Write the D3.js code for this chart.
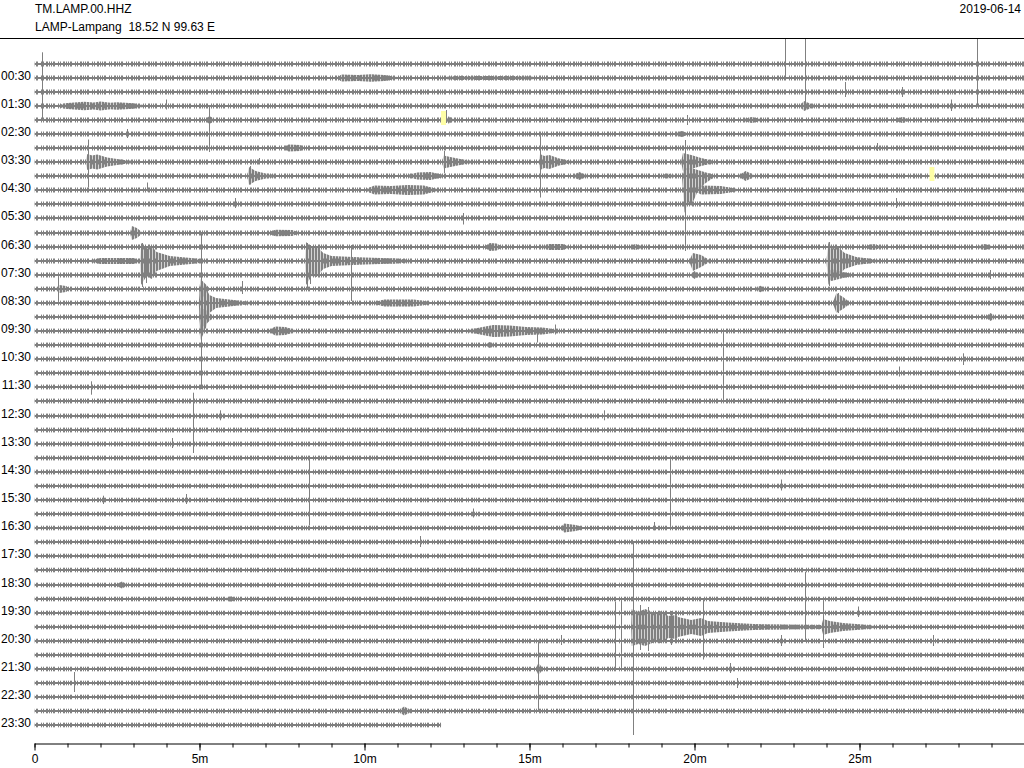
<!DOCTYPE html>
<html>
<head>
<meta charset="utf-8">
<script src="https://cdn.jsdelivr.net/npm/d3@7"></script>
<style>
  body { margin: 0; background: #fff; }
  svg { display: block; font-family: "Liberation Sans", Arial, sans-serif; }
  text { font-size: 12px; fill: #000; }
</style>
</head>
<body>
<svg id="heli" width="1024" height="768"></svg>
<script>
// header
const station = "TM.LAMP.00.HHZ";
const stationInfo = "LAMP-Lampang  18.52 N 99.63 E";
const dayLabel = "2019-06-14";

// 48 traces of 30 minutes, last one is cut short
const traceCount = 48;
const traceMinutes = 30;
const lastTraceEnd = 12.32;

const hourLabels = ["00:30", "01:30", "02:30", "03:30", "04:30", "05:30", "06:30", "07:30",
  "08:30", "09:30", "10:30", "11:30", "12:30", "13:30", "14:30", "15:30",
  "16:30", "17:30", "18:30", "19:30", "20:30", "21:30", "22:30", "23:30"];
const minuteTicks = [0, 5, 10, 15, 20, 25];
const minuteLabels = ["0", "5m", "10m", "15m", "20m", "25m"];

// background noise of each trace, half amplitude in counts
const noise = [250, 250, 250, 250, 250, 250, 250, 250, 250, 250, 250, 250, 250, 250, 250, 250,
  240, 240, 240, 240, 240, 240, 240, 240, 240, 240, 240, 240, 240, 240,
  230, 230, 230, 230, 230, 230, 230, 230, 230, 230, 230, 230, 230, 230, 230, 230, 230, 230];

// envelopes: [trace, [[minute, up, down], ...]]  (down = up if missing)
const events = [
  [1, [[9.2, 100], [9.3, 350], [9.8, 300], [10.2, 380], [10.6, 300], [11.0, 100]]],
  [1, [[12.4, 100], [12.8, 200], [14.8, 200], [15.2, 100]]],
  [3, [[0.7, 100], [1.0, 300], [1.5, 420], [1.8, 350], [2.0, 450], [2.3, 330], [2.5, 380], [3.0, 280], [3.3, 100]]],
  [3, [[23.2, 100], [23.32, 500], [23.5, 250], [23.65, 100]]],
  [4, [[5.2, 100], [5.3, 400], [5.45, 100]]],
  [4, [[12.5, 100], [12.55, 380], [12.7, 100]]],
  [4, [[21.5, 100], [21.75, 300], [22.0, 100]]],
  [4, [[26.1, 100], [26.3, 300], [26.5, 100]]],
  [5, [[19.4, 100], [19.6, 300], [19.8, 100]]],
  [6, [[7.55, 100], [7.7, 350], [8.05, 300], [8.15, 100]]],
  [7, [[1.55, 100], [1.6, 800], [1.75, 650], [1.9, 750], [2.2, 450], [2.6, 250], [3.0, 100]]],
  [7, [[12.35, 100], [12.4, 650], [12.6, 500], [12.9, 300], [13.3, 100]]],
  [7, [[15.28, 100], [15.32, 800], [15.45, 600], [15.6, 700], [15.9, 350], [16.3, 100]]],
  [7, [[19.6, 100], [19.65, 900], [19.9, 700], [20.2, 400], [20.6, 100]]],
  [8, [[6.45, 100], [6.5, 900], [6.7, 500], [7.0, 250], [7.3, 100]]],
  [8, [[11.3, 100], [11.6, 350], [12.0, 400], [12.4, 100]]],
  [8, [[16.35, 100], [16.5, 400], [16.75, 100]]],
  [8, [[19.0, 100], [19.2, 250], [19.4, 100]]],
  [8, [[19.62, 100], [19.7, 900, 3700], [19.8, 700, 2600], [19.9, 800, 3000], [20.1, 600, 1500], [20.3, 400, 800], [20.6, 100]]],
  [8, [[21.35, 100], [21.55, 500], [21.8, 100]]],
  [9, [[10.05, 100], [10.3, 450], [10.8, 400], [11.3, 500], [11.8, 450], [12.2, 100]]],
  [9, [[20.0, 100], [20.2, 450], [20.8, 400], [21.3, 100]]],
  [12, [[2.9, 100], [2.95, 700], [3.1, 500], [3.25, 100]]],
  [12, [[7.1, 100], [7.3, 330], [7.8, 300], [8.0, 100]]],
  [13, [[13.65, 100], [13.8, 400], [14.0, 350], [14.15, 100]]],
  [13, [[15.4, 100], [15.6, 300], [16.0, 300], [16.2, 100]]],
  [13, [[18.05, 100], [18.2, 300], [18.4, 100]]],
  [13, [[25.2, 100], [25.4, 300], [25.7, 100]]],
  [13, [[28.6, 100], [28.8, 300], [29.0, 100]]],
  [14, [[1.7, 100], [2.0, 300], [3.0, 300], [3.2, 100]]],
  [14, [[3.2, 100], [3.23, 1800, 2400], [3.4, 1200, 1500], [3.55, 1500, 1800], [3.7, 900, 1000], [4.1, 500], [4.9, 250], [5.2, 100]]],
  [14, [[8.2, 100], [8.23, 1900, 2400], [8.4, 1300, 1500], [8.55, 1500, 1600], [8.75, 800], [9.0, 500], [10.0, 350], [11.0, 250], [11.4, 100]]],
  [14, [[19.85, 100], [19.95, 800, 1000], [20.2, 600], [20.45, 100]]],
  [14, [[24.0, 100], [24.06, 1900, 2400], [24.2, 1200, 1400], [24.35, 1400, 1500], [24.55, 800], [24.9, 400], [25.4, 200], [25.6, 100]]],
  [15, [[19.9, 100], [20.0, 400], [20.15, 100]]],
  [15, [[24.0, 100], [24.15, 600], [24.5, 300], [24.8, 100]]],
  [16, [[0.65, 100], [0.75, 400], [0.95, 300], [1.05, 100]]],
  [16, [[5.0, 100], [5.03, 1000, 1300], [5.15, 600], [5.3, 100]]],
  [16, [[21.85, 100], [22.0, 330], [22.15, 100]]],
  [17, [[4.98, 100], [5.02, 1800, 3000], [5.2, 1500, 2500], [5.3, 800, 1000], [5.5, 500], [5.9, 350], [6.3, 200], [6.6, 100]]],
  [17, [[10.3, 100], [10.6, 350], [11.5, 350], [12.0, 100]]],
  [17, [[24.2, 100], [24.3, 1000], [24.5, 600], [24.7, 100]]],
  [18, [[5.0, 100], [5.03, 900, 1200], [5.2, 700], [5.4, 100]]],
  [18, [[28.85, 100], [28.97, 400], [29.1, 100]]],
  [19, [[5.0, 100], [5.03, 700, 900], [5.15, 100]]],
  [19, [[7.1, 100], [7.3, 450], [7.6, 400], [7.9, 100]]],
  [19, [[13.1, 100], [13.5, 350], [13.9, 600], [14.4, 550], [14.9, 400], [15.4, 350], [15.9, 100]]],
  [20, [[13.7, 100], [13.8, 300], [13.9, 100]]],
  [33, [[15.95, 100], [16.05, 450], [16.4, 300], [16.6, 100]]],
  [37, [[2.5, 100], [2.65, 350], [2.8, 100]]],
  [38, [[5.8, 100], [5.95, 300], [6.05, 100]]],
  [40, [[18.08, 100], [18.1, 1800, 1900], [18.3, 1500, 1700], [18.5, 1800, 1900], [18.8, 1400, 1500], [19.0, 1600],
        [19.2, 1100], [19.45, 1200], [19.5, 1000], [19.9, 700], [20.2, 900], [20.4, 600], [21.0, 450], [21.8, 300],
        [22.6, 250], [23.85, 200], [23.9, 800], [24.1, 600], [24.5, 400], [25.0, 280], [25.5, 100]]],
  [43, [[15.2, 100], [15.27, 600], [15.4, 100]]],
  [46, [[11.05, 100], [11.2, 450], [11.4, 100]]]
];

// single spikes: [trace, minute, up, down] in counts
const spikes = [
  [0, 0.22, 1170, 5650], [1, 22.74, 5000, 100], [2, 24.55, 1000, 500], [2, 26.28, 500, 500],
  [3, 3.99, 650, 350], [3, 23.34, 7000, 100], [3, 27.77, 650, 500], [3, 28.55, 7000, 100],
  [4, 5.29, 1300, 3200], [4, 12.47, 1000, 300], [4, 19.77, 500, 500], [5, 2.81, 500, 400],
  [6, 25.52, 500, 300], [7, 1.62, 2250, 2550], [7, 6.79, 400, 250], [7, 12.42, 1100, 1100],
  [7, 15.32, 2750, 3550], [7, 19.72, 2200, 8900], [8, 6.52, 1000, 850], [9, 3.40, 750, 150],
  [10, 6.08, 600, 400], [10, 26.11, 600, 400], [11, 12.98, 500, 650], [14, 3.25, 1800, 2600],
  [14, 3.38, 1500, 2200], [14, 8.25, 1800, 2700], [14, 8.36, 1600, 2300], [14, 24.08, 1900, 2500],
  [15, 0.71, 100, 2600], [15, 9.58, 3000, 2600], [15, 28.96, 500, 400],
  [16, 6.30, 800, 500], [17, 5.05, 6900, 8600], [17, 24.36, 1000, 1000], [19, 15.24, 300, 1150],
  [19, 15.77, 650, 350], [20, 20.86, 1500, 5650], [21, 28.15, 570, 600], [22, 26.19, 650, 350],
  [23, 1.72, 570, 770], [24, 4.80, 830, 5200], [25, 5.63, 570, 430], [25, 17.26, 570, 430],
  [27, 4.17, 600, 400], [29, 8.31, 1400, 5350], [29, 19.26, 1350, 5500], [30, 22.62, 650, 450],
  [31, 2.09, 430, 400], [31, 4.60, 600, 400], [32, 13.28, 550, 350], [33, 18.76, 600, 250],
  [34, 11.69, 600, 500], [37, 23.35, 1330, 5650], [39, 24.95, 650, 400], [40, 17.59, 2550, 4100],
  [40, 17.76, 2700, 4100], [40, 18.13, 8450, 10800], [40, 18.35, 2200, 2300], [40, 18.6, 2000, 2400],
  [40, 19.3, 1600, 1800], [40, 20.25, 2700, 3250], [40, 23.89, 2800, 2100],
  [41, 15.95, 600, 400], [41, 22.62, 600, 500], [41, 27.24, 600, 500], [43, 15.27, 2750, 4100],
  [43, 21.07, 600, 400], [44, 1.21, 1100, 900], [44, 21.29, 500, 500]
];

// yellow marks: [trace, from minute, to minute]
const gapMarks = [[4, 12.32, 12.47], [8, 27.12, 27.27]];

const gray = "#808080";
const svg = d3.select("#heli");

const x = d3.scaleLinear().domain([0, traceMinutes]).range([34.5, 1024.5]);
const y = d3.scaleLinear().domain([0, traceCount - 1]).range([63.6, 725.3]);
const amp = d3.scaleLinear().domain([0, 1000]).range([0, 10]);
const ly = i => Math.round(y(i));
const endOf = i => (i === traceCount - 1 ? lastTraceEnd : traceMinutes);

const defs = svg.append("defs");
defs.append("clipPath").attr("id", "plot")
  .append("rect").attr("x", 34.5).attr("y", 38.5).attr("width", 990).attr("height", 705);

// dense hatching for the envelopes
const pat = defs.append("pattern").attr("id", "wig")
  .attr("patternUnits", "userSpaceOnUse").attr("width", 3).attr("height", 8);
pat.append("rect").attr("x", 0).attr("y", 0).attr("width", 2).attr("height", 8).attr("fill", gray);
pat.append("rect").attr("x", 2).attr("y", 0).attr("width", 1).attr("height", 8).attr("fill", gray).attr("opacity", 0.35);

// loose uneven ticks for the background noise
const npat = defs.append("pattern").attr("id", "fuzz")
  .attr("patternUnits", "userSpaceOnUse").attr("width", 17).attr("height", 8);
[0, 2, 3, 7, 9, 12, 13, 15].forEach(o =>
  npat.append("rect").attr("x", o).attr("y", 0).attr("width", 1).attr("height", 8).attr("fill", gray));

const plot = svg.append("g").attr("clip-path", "url(#plot)");
const lines = d3.range(traceCount);

// noise halo + trace core
plot.append("g").selectAll("rect").data(lines).join("rect")
  .attr("x", x(0))
  .attr("width", i => x(endOf(i)) - x(0))
  .attr("y", i => ly(i) - amp(noise[i]))
  .attr("height", i => 2 * amp(noise[i]))
  .attr("fill", "url(#fuzz)");

plot.append("g").selectAll("line").data(lines).join("line")
  .attr("x1", x(0)).attr("x2", i => x(endOf(i)))
  .attr("y1", ly).attr("y2", ly)
  .attr("stroke", gray).attr("stroke-width", 2);

// event envelopes
const area = d3.area().x(p => x(p[0]));
plot.append("g").selectAll("path").data(events).join("path")
  .attr("d", ([i, pts]) => area
    .y0(p => ly(i) - amp(p[1]))
    .y1(p => ly(i) + amp(p.length > 2 ? p[2] : p[1]))(pts))
  .attr("fill", "url(#wig)");

// spikes
plot.append("g").selectAll("line").data(spikes).join("line")
  .attr("x1", d => Math.round(x(d[1])) + 0.5)
  .attr("x2", d => Math.round(x(d[1])) + 0.5)
  .attr("y1", d => ly(d[0]) - amp(d[2]))
  .attr("y2", d => ly(d[0]) + amp(d[3]))
  .attr("stroke", gray).attr("stroke-width", 1);

// marks
plot.append("g").selectAll("rect").data(gapMarks).join("rect")
  .attr("x", d => x(d[1]))
  .attr("width", d => x(d[2]) - x(d[1]))
  .attr("y", d => ly(d[0]) - 9)
  .attr("height", 14)
  .attr("fill", "#ffffa6");

// frame line on top
svg.append("line")
  .attr("x1", 0).attr("x2", 1024).attr("y1", 38.5).attr("y2", 38.5)
  .attr("stroke", "#000").attr("stroke-width", 1);

// header texts
svg.append("text").attr("x", 35).attr("y", 13).text(station);
svg.append("text").attr("x", 35).attr("y", 31).style("white-space", "pre").text(stationInfo);
svg.append("text").attr("x", 1021).attr("y", 13).attr("text-anchor", "end").text(dayLabel);

// hour labels on the left
const yAxis = d3.axisLeft(y)
  .tickValues(hourLabels.map((d, k) => 2 * k + 1))
  .tickFormat(d => hourLabels[(d - 1) / 2])
  .tickSize(0).tickPadding(4);
const gy = svg.append("g").attr("transform", "translate(35,0)").call(yAxis);
gy.select(".domain").remove();
gy.selectAll("text")
  .attr("y", d => ly(d) - y(d) + 1.5).attr("dy", null)
  .attr("font-size", 12).attr("font-family", "Liberation Sans, Arial, sans-serif");

// time axis at the bottom
const gMinor = svg.append("g").attr("transform", "translate(0,743.5)")
  .call(d3.axisBottom(x).tickValues(d3.range(0, traceMinutes)).tickSize(4).tickSizeOuter(0).tickFormat(""));
gMinor.selectAll("line").attr("stroke", "#000");
gMinor.select(".domain").attr("stroke", "#000");

const gMajor = svg.append("g").attr("transform", "translate(0,743.5)")
  .call(d3.axisBottom(x).tickValues(minuteTicks)
    .tickFormat((d, k) => minuteLabels[k]).tickSize(7).tickSizeOuter(0).tickPadding(4));
gMajor.select(".domain").remove();
gMajor.selectAll("line").attr("stroke", "#000");
gMajor.selectAll("text").attr("font-size", 12)
  .attr("font-family", "Liberation Sans, Arial, sans-serif").attr("fill", "#000");
</script>
</body>
</html>
